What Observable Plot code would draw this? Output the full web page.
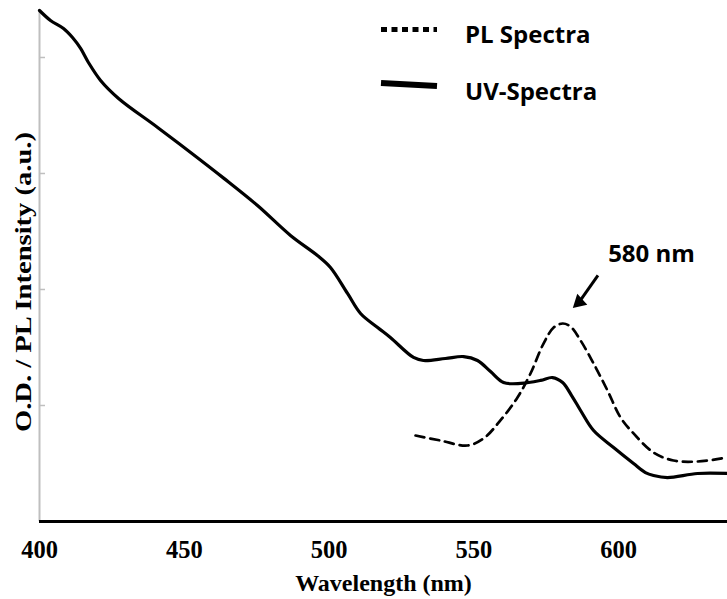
<!DOCTYPE html>
<html>
<head>
<meta charset="utf-8">
<script src="https://cdn.jsdelivr.net/npm/d3@7"></script>
<script src="https://cdn.jsdelivr.net/npm/@observablehq/plot@0.6"></script>
<style>
  html, body { margin: 0; padding: 0; background: #fff; }
  #wrap { position: relative; width: 727px; height: 599px; }
  #legend { position: absolute; left: 0; top: 0; pointer-events: none; }
</style>
</head>
<body>
<div id="wrap"></div>
<script>
// UV absorption spectrum (solid)
const uvWavelength = [400, 403.8, 408.3, 411.4, 414.2, 416.9, 421.1, 427.3, 440.8, 452.2, 463.6, 475.3, 486.7, 496.0, 500.5, 506.4, 510.9, 516.8, 521.2, 529.2, 532.6, 540.2, 546.5, 551.3, 555.8, 560.3, 566.2, 573.1, 577.2, 580.7, 583.8, 586.9, 591.4, 598.3, 605.2, 609.3, 612.1, 616.9, 627.3, 637.65];
const uvIntensity  = [4.405, 4.319, 4.250, 4.172, 4.078, 3.957, 3.802, 3.647, 3.397, 3.181, 2.960, 2.724, 2.466, 2.293, 2.190, 1.966, 1.793, 1.672, 1.586, 1.414, 1.388, 1.405, 1.422, 1.388, 1.293, 1.198, 1.190, 1.216, 1.241, 1.198, 1.086, 0.957, 0.784, 0.638, 0.500, 0.422, 0.397, 0.379, 0.414, 0.414];
// PL emission spectrum (dashed)
const plWavelength = [529.9, 538.5, 547.8, 553.4, 559.2, 565.1, 569.6, 574.1, 577.6, 580.7, 583.4, 586.9, 591.4, 596.2, 600.7, 605.2, 612.1, 619.0, 627.3, 637.65];
const plIntensity  = [0.741, 0.698, 0.655, 0.716, 0.871, 1.069, 1.276, 1.534, 1.672, 1.707, 1.681, 1.560, 1.362, 1.129, 0.897, 0.759, 0.595, 0.526, 0.517, 0.552];

const xTicks = [400, 450, 500, 550, 600];
const yTicks = [1, 2, 3, 4];
const xDomain = [400, 637.65];
const yDomain = [0, 4.405];
const xLabel = "Wavelength (nm)";
const yLabel = "O.D. / PL Intensity (a.u.)";
const seriesNames = ["PL Spectra", "UV-Spectra"];
const peakLabel = "580 nm";
const arrowFrom = {x: 592.9, y: 2.121};
const arrowHead = {x: 586.4, y: 1.891};
const peakLabelPos = {x: 611.4, y: 2.306};

const uv = uvWavelength.map((x, i) => ({x, y: uvIntensity[i]}));
const pl = plWavelength.map((x, i) => ({x, y: plIntensity[i]}));

const sans = "'Open Sans', 'Liberation Sans', sans-serif";
const serif = "'Liberation Serif', 'Times New Roman', serif";

const chart = Plot.plot({
  width: 727,
  height: 599,
  marginLeft: 39,
  marginRight: 0,
  marginTop: 10,
  marginBottom: 78,
  x: {domain: xDomain},
  y: {domain: yDomain},
  style: {fontFamily: serif, fontWeight: "bold", fontSize: "24.5px", color: "black", background: "white"},
  marks: [
    Plot.ruleX([xDomain[0]], {stroke: "#bfbfbf", strokeWidth: 2}),
    Plot.axisY({ticks: yTicks, tickSize: -6, tickFormat: () => "", stroke: "#bfbfbf", strokeWidth: 1.5, label: null}),
    Plot.axisX({ticks: xTicks, tickSize: 0, tickPadding: 19, label: null, fill: "black"}),
    Plot.line(uv, {x: "x", y: "y", stroke: "black", strokeWidth: 3.2, curve: "catmull-rom"}),
    Plot.line(pl, {x: "x", y: "y", stroke: "black", strokeWidth: 2.7, strokeDasharray: "9 6", curve: "catmull-rom"}),
    Plot.ruleY([0], {stroke: "black", strokeWidth: 3}),
    Plot.link([{x1: arrowFrom.x, y1: arrowFrom.y, x2: arrowHead.x, y2: arrowHead.y}], {x1: "x1", y1: "y1", x2: "x2", y2: "y2", stroke: "black", strokeWidth: 3}),
    Plot.dot([arrowHead], {x: "x", y: "y", symbol: "triangle", r: 5.5, fill: "black", stroke: "none", rotate: 227.6}),
    Plot.text([peakLabel], {x: () => peakLabelPos.x, y: () => peakLabelPos.y, text: d => d, fontFamily: sans, fontWeight: "bold", fontSize: 24, textAnchor: "middle", lineAnchor: "middle", fill: "black"}),
    Plot.text([xLabel], {text: d => d, frameAnchor: "bottom", dy: 52, lineAnchor: "top", fontSize: 24, fontWeight: "bold", fontFamily: serif, fill: "black"}),
    Plot.text([yLabel], {text: d => d, frameAnchor: "left", rotate: -90, dx: -16, dy: 16, lineAnchor: "middle", textAnchor: "middle", fontSize: 24, fontWeight: "bold", fontFamily: serif, fill: "black"})
  ]
});
document.getElementById("wrap").appendChild(chart);
// the reference's axis title is stretched along its baseline
d3.select(chart).selectAll("text")
  .filter(function() { return this.textContent === yLabel; })
  .attr("textLength", 300).attr("lengthAdjust", "spacingAndGlyphs");

// Legend overlay
const leg = d3.select("#wrap").append("svg")
  .attr("id", "legend").attr("width", 727).attr("height", 599);
const legendRows = [
  {name: seriesNames[0], dash: "6 4.5", width: 5, y1: 29.5, y2: 29.5, ty: 43},
  {name: seriesNames[1], dash: null, width: 6, y1: 83, y2: 86, ty: 100}
];
legendRows.forEach(r => {
  leg.append("line").attr("x1", 381).attr("x2", 437).attr("y1", r.y1).attr("y2", r.y2)
    .attr("stroke", "black").attr("stroke-width", r.width)
    .attr("stroke-dasharray", r.dash);
  leg.append("text").attr("x", 465).attr("y", r.ty).text(r.name)
    .attr("font-family", sans).attr("font-weight", "bold").attr("font-size", 24).attr("fill", "black");
});
</script>
</body>
</html>
